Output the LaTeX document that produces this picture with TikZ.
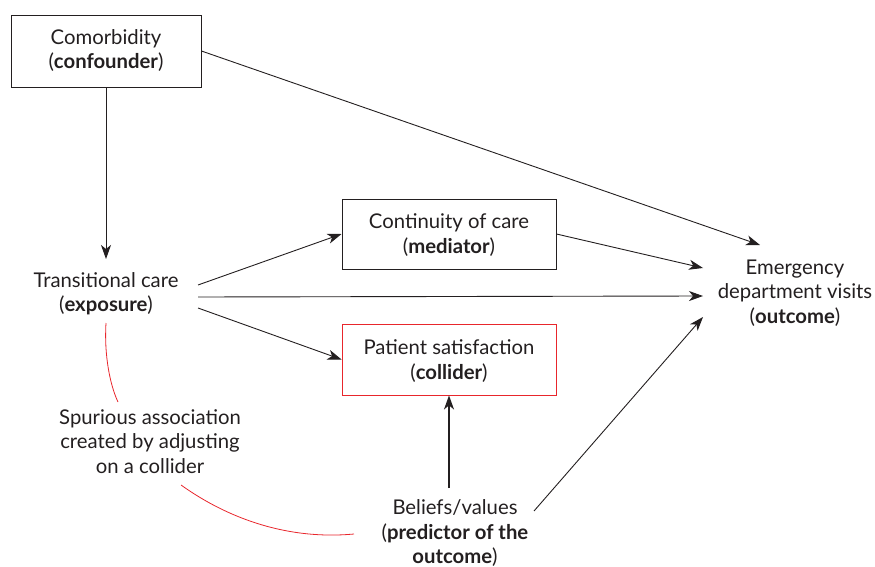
\documentclass[tikz,border=0pt]{standalone}
\usepackage{fontspec}
\setmainfont{Lato}
\usetikzlibrary{arrows.meta}
\definecolor{txt}{HTML}{231F20}
\definecolor{redl}{HTML}{E8262C}
\begin{document}
\begin{tikzpicture}[x=1pt,y=-1pt,
  lbl/.style={align=center,text=txt,font=\fontsize{20.3}{24.5}\selectfont,inner sep=0pt},
  boxn/.style={draw=txt,line width=0.9pt,minimum width=190pt,minimum height=72pt,inner sep=0pt},
  arr/.style={draw=txt,line width=0.9pt,-{Stealth[length=14pt,width=10pt,inset=4pt]}},
  curve/.style={draw=redl,line width=0.8pt}]
\useasboundingbox (0,0) rectangle (875,567);
\node[boxn,minimum width=190pt,minimum height=72pt] (com) at (106,51) {};
\node[lbl] (comt) at (106,50.5) {Comorbidity\\(\textbf{confounder})};
\node[boxn,minimum width=214pt,minimum height=70pt] (cont) at (449,234) {};
\node[lbl] at (449,235) {Continuity of care\\(\textbf{mediator})};
\node[boxn,draw=redl,minimum width=214pt,minimum height=71pt] (pat) at (449,359.5) {};
\node[lbl] at (449,361) {Patient satisfaction\\(\textbf{collider})};
\node[lbl] (tra) at (106,293.5) {Transitional care\\(\textbf{exposure})};
\node[lbl] (ed) at (795,293) {Emergency\\department visits\\(\textbf{outcome})};
\node[lbl] (spu) at (150,441.5) {Spurious association\\created by adjusting\\on a collider};
\node[lbl] (bel) at (455,533.5) {Beliefs/values\\(\textbf{predictor of the}\\\textbf{outcome})};
\coordinate (edT) at (760,245);
\coordinate (edA) at (703,268);
\coordinate (edB) at (703,296);
\coordinate (edC) at (703,317);
\draw[arr] (com.south) -- (106,259);
\draw[arr] (com.east |- 0,51) -- (edT);
\draw[arr] (198,285) -- (cont.west);
\draw[arr] (198,297) -- (edB);
\draw[arr] (198,308) -- (pat.west);
\draw[arr] (cont.east) -- (edA);
\draw[arr,line width=1.4pt] (449,488) -- (pat.south);
\draw[arr] (534,511) -- (edC);
\draw[curve] (106,323) .. controls (104,355) and (110,385) .. (118,402);
\draw[curve] (181,485) .. controls (230,520) and (290,540) .. (354,534);
\end{tikzpicture}
\end{document}
